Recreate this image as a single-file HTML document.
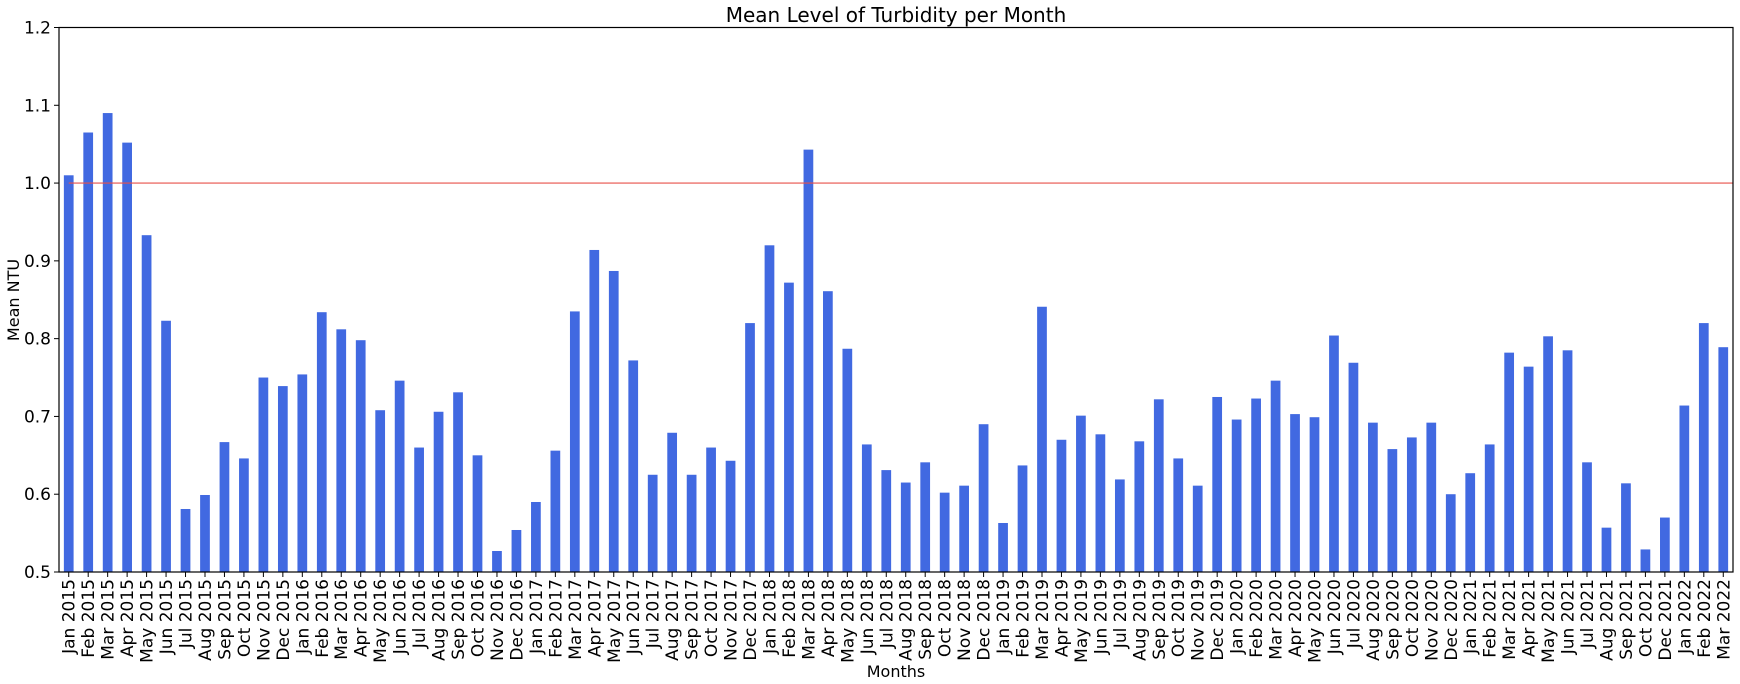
<!DOCTYPE html>
<html><head><meta charset="utf-8"><style>
html,body{margin:0;padding:0;background:#fff}
svg{display:block;font-family:"DejaVu Sans","Liberation Sans",sans-serif}
</style></head><body>
<svg id="chart" width="1740" height="684" viewBox="0 0 1740 684" xmlns="http://www.w3.org/2000/svg">
<text x="896" y="22" font-size="20" text-anchor="middle">Mean Level of Turbidity per Month</text>
<text transform="translate(19,300) rotate(-90)" font-size="16" text-anchor="middle">Mean NTU</text>
<text x="896" y="677" font-size="16" text-anchor="middle">Months</text>
<g id="bars"></g>
<g id="ticks"></g>
<rect x="59" y="27.5" width="1674" height="544.5" fill="none" stroke="#000" stroke-width="1.2"/>
</svg>
<script>
const months = ["Jan","Feb","Mar","Apr","May","Jun","Jul","Aug","Sep","Oct","Nov","Dec"];
const categories = [];
for (let y = 2015; y <= 2022; y++) for (let m = 0; m < 12; m++) {
  if (y === 2022 && m > 2) break;
  if (y === 2021 && m === 10) continue;
  categories.push(months[m] + " " + y);
}
const values = [
1.01,1.065,1.09,1.052,0.933,0.823,0.581,0.599,0.667,0.646,0.75,0.739,
0.754,0.834,0.812,0.798,0.708,0.746,0.66,0.706,0.731,0.65,0.527,0.554,
0.59,0.656,0.835,0.914,0.887,0.772,0.625,0.679,0.625,0.66,0.643,0.82,
0.92,0.872,1.043,0.861,0.787,0.664,0.631,0.615,0.641,0.602,0.611,0.69,
0.563,0.637,0.841,0.67,0.701,0.677,0.619,0.668,0.722,0.646,0.611,0.725,
0.696,0.723,0.746,0.703,0.699,0.804,0.769,0.692,0.658,0.673,0.692,0.6,
0.627,0.664,0.782,0.764,0.803,0.785,0.641,0.557,0.614,0.529,0.57,
0.714,0.82,0.789];
const yTicks = [0.5,0.6,0.7,0.8,0.9,1.0,1.1,1.2];
const threshold = 1.0;

const NS = "http://www.w3.org/2000/svg";
const X0 = 59, X1 = 1733, Y0 = 572, Y1 = 27.5, VMIN = 0.5, VMAX = 1.2;
const step = (X1 - X0) / categories.length;
const xc = i => X0 + step * (i + 0.5);
const ys = v => Y0 - (v - VMIN) / (VMAX - VMIN) * (Y0 - Y1);
const bars = document.getElementById('bars');
const ticks = document.getElementById('ticks');

values.forEach((v, i) => {
  const r = document.createElementNS(NS, 'rect');
  
  
  r.setAttribute('x', xc(i) - step / 4);
  r.setAttribute('width', step / 2);
  r.setAttribute('y', ys(v));
  r.setAttribute('height', Y0 - ys(v));
  r.setAttribute('fill', '#4169e1');
  bars.appendChild(r);
});
categories.forEach((c, i) => {
  const l = document.createElementNS(NS, 'line');
  
  
  l.setAttribute('x1', xc(i)); l.setAttribute('x2', xc(i));
  l.setAttribute('y1', Y0); l.setAttribute('y2', Y0 + 5);
  l.setAttribute('stroke', '#000');
  ticks.appendChild(l);
  const t = document.createElementNS(NS, 'text');
  
  
  t.setAttribute('transform', 'translate(' + (xc(i) + 6) + ',579) rotate(-90)');
  t.setAttribute('font-size', '17');
  t.setAttribute('text-anchor', 'end');
  t.textContent = c;
  ticks.appendChild(t);
});
yTicks.forEach(v => {
  const l = document.createElementNS(NS, 'line');
  
  
  l.setAttribute('x1', X0 - 5); l.setAttribute('x2', X0);
  l.setAttribute('y1', ys(v)); l.setAttribute('y2', ys(v));
  l.setAttribute('stroke', '#000');
  ticks.appendChild(l);
  const t = document.createElementNS(NS, 'text');
  
  
  t.setAttribute('x', X0 - 8); t.setAttribute('y', ys(v) + 6);
  t.setAttribute('font-size', '17');
  t.setAttribute('text-anchor', 'end');
  t.textContent = v.toFixed(1);
  ticks.appendChild(t);
});
const th = document.createElementNS(NS, 'line');


th.setAttribute('x1', xc(0)); th.setAttribute('x2', X1);
th.setAttribute('y1', ys(threshold)); th.setAttribute('y2', ys(threshold));
th.setAttribute('stroke', '#e8504a'); th.setAttribute('stroke-width', '1.2');
bars.appendChild(th);
</script>
</body></html>
